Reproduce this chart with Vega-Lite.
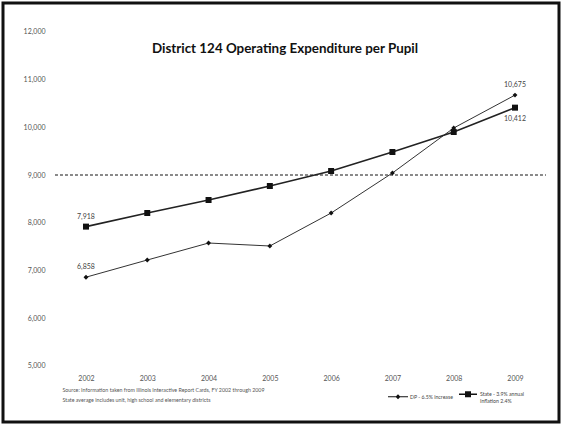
{
  "$schema": "https://vega.github.io/schema/vega-lite/v6.json",
  "width": 556,
  "height": 419,
  "autosize": {"type": "none"},
  "padding": {"left": 3, "top": 3, "right": 5, "bottom": 4},
  "background": "white",
  "config": {
    "view": {"stroke": "#111111", "strokeWidth": 3},
    "font": "Lato"
  },
  "title": {
    "text": "District 124 Operating Expenditure per Pupil",
    "font": "Lato",
    "fontSize": 13.4,
    "fontWeight": "bold",
    "color": "#111111",
    "anchor": "middle",
    "offset": -52,
    "dx": 4
  },
  "data": {
    "values": [
      {"year": 2002, "series": "DP", "value": 6858},
      {"year": 2003, "series": "DP", "value": 7218},
      {"year": 2004, "series": "DP", "value": 7574},
      {"year": 2005, "series": "DP", "value": 7512},
      {"year": 2006, "series": "DP", "value": 8203},
      {"year": 2007, "series": "DP", "value": 9042},
      {"year": 2008, "series": "DP", "value": 9985},
      {"year": 2009, "series": "DP", "value": 10675},
      {"year": 2002, "series": "State", "value": 7918},
      {"year": 2003, "series": "State", "value": 8203},
      {"year": 2004, "series": "State", "value": 8476},
      {"year": 2005, "series": "State", "value": 8769},
      {"year": 2006, "series": "State", "value": 9084},
      {"year": 2007, "series": "State", "value": 9482},
      {"year": 2008, "series": "State", "value": 9901},
      {"year": 2009, "series": "State", "value": 10412}
    ]
  },
  "encoding": {
    "x": {
      "field": "year",
      "type": "quantitative",
      "scale": {"domain": [2000.646, 2009.718], "nice": false, "zero": false},
      "axis": {
        "orient": "bottom",
        "offset": -48,
        "values": [2002, 2003, 2004, 2005, 2006, 2007, 2008, 2009],
        "labelExpr": "format(datum.value, 'd')",
        "domain": false,
        "ticks": false,
        "grid": false,
        "labelPadding": 0,
        "labelBaseline": "top",
        "labelFontSize": 7,
        "labelColor": "#555555",
        "title": ["Source: Information taken from Illinois Interactive Report Cards, FY 2002 through 2009", "State average includes unit, high school and elementary districts"],
        "titleFontSize": 5.3,
        "titleFontWeight": "normal",
        "titleColor": "#555555",
        "titleAlign": "left",
        "titleAnchor": "start",
        "titleBaseline": "alphabetic",
        "titleLineHeight": 10,
        "titleX": 59,
        "titleY": 17
      }
    },
    "y": {
      "field": "value",
      "type": "quantitative",
      "scale": {"domain": [3822, 12606], "nice": false, "zero": false},
      "axis": {
        "orient": "left",
        "offset": -42,
        "values": [5000, 6000, 7000, 8000, 9000, 10000, 11000, 12000],
        "labelExpr": "format(datum.value, ',')",
        "domain": false,
        "ticks": false,
        "grid": false,
        "labelPadding": 0,
        "labelFontSize": 7,
        "labelColor": "#555555",
        "title": null
      }
    }
  },
  "layer": [
    {
      "mark": {"type": "rule", "strokeDash": [2, 3], "color": "#888888", "strokeWidth": 1},
      "encoding": {
        "x": {"datum": 2001.5, "type": "quantitative"},
        "x2": {"datum": 2009.5},
        "y": {"datum": 9000, "type": "quantitative"}
      }
    },
    {
      "transform": [{"filter": "datum.series == 'DP'"}],
      "mark": {"type": "line", "color": "#333333", "strokeWidth": 1},
      "encoding": {}
    },
    {
      "transform": [{"filter": "datum.series == 'State'"}],
      "mark": {"type": "line", "color": "#222222", "strokeWidth": 1.6},
      "encoding": {}
    },
    {
      "transform": [{"filter": "datum.series == 'DP'"}],
      "mark": {"type": "point", "shape": "diamond", "filled": true, "color": "#111111", "opacity": 1, "size": 24},
      "encoding": {}
    },
    {
      "transform": [{"filter": "datum.series == 'State'"}],
      "mark": {"type": "point", "shape": "square", "filled": true, "color": "#111111", "opacity": 1, "size": 36},
      "encoding": {}
    },
    {
      "mark": {"type": "point", "filled": true, "color": "#111111", "opacity": 0, "size": 400},
      "encoding": {
        "shape": {
          "field": "series",
          "type": "nominal",
          "scale": {"domain": ["DP", "State"], "range": ["M-1,-0.045L1,-0.045L1,0.045L-1,0.045ZM0,-0.25L0.25,0L0,0.25L-0.25,0Z", "M-0.9,-0.07L0.9,-0.07L0.9,0.07L-0.9,0.07ZM-0.3,-0.3L0.3,-0.3L0.3,0.3L-0.3,0.3Z"]},
          "legend": {
            "orient": "none",
            "legendX": 384,
            "legendY": 380,
            "direction": "horizontal",
            "title": null,
            "symbolSize": 400,
            "symbolFillColor": "#111111",
            "symbolOpacity": 1,
            "labelFontSize": 5.2,
            "labelColor": "#444444",
            "labelOffset": 1,
            "columnPadding": 2,
            "labelExpr": "datum.value == 'DP' ? 'DP - 6.5% increase' : ['State - 3.9% annual', 'Inflation 2.4%']",
            "encode": {
              "symbols": {
                "update": {
                  "fill": {"value": "#111111"},
                  "opacity": {"value": 1},
                  "fillOpacity": {"value": 1}
                }
              }
            }
          }
        }
      }
    },
    {
      "transform": [{"filter": "datum.year == 2002 || (datum.year == 2009 && datum.series == 'DP')"}],
      "mark": {"type": "text", "dy": -10, "fontSize": 7, "color": "#444444"},
      "encoding": {
        "text": {"field": "value", "type": "quantitative", "format": ","}
      }
    },
    {
      "transform": [{"filter": "datum.year == 2009 && datum.series == 'State'"}],
      "mark": {"type": "text", "dy": 11, "fontSize": 7, "color": "#444444"},
      "encoding": {
        "text": {"field": "value", "type": "quantitative", "format": ","}
      }
    }
  ]
}
